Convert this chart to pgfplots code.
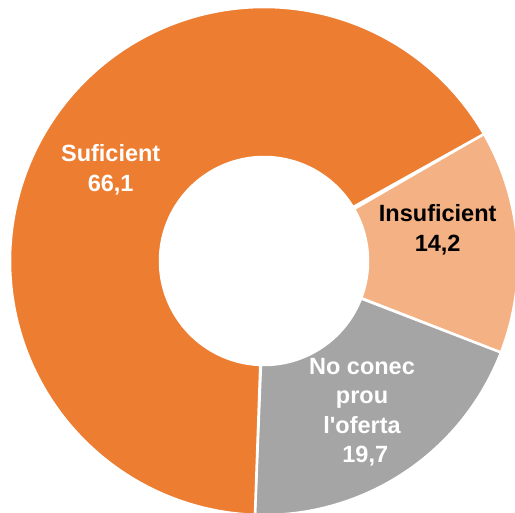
\documentclass[border=0pt]{standalone}
\usepackage{pgfplots}
\pgfplotsset{compat=1.18}
\usepackage{fontspec}
\setmainfont{Liberation Sans}[Ligatures=TeXOff]
\definecolor{cSuf}{HTML}{ED7D31}
\definecolor{cIns}{HTML}{F4B183}
\definecolor{cNo}{HTML}{A5A5A5}
% data (percent)
\def\vIns{14.2}
\def\vNo{19.7}
\def\vSuf{66.1}
\pgfmathsetmacro{\aA}{30.0}
\pgfmathsetmacro{\aB}{\aA-\vIns*3.6}
\pgfmathsetmacro{\aC}{\aB-\vNo*3.6}
\pgfmathsetmacro{\aD}{\aC-\vSuf*3.6}
\newcommand{\ring}[3]{%
  \addplot[fill=#1, draw=white, line width=2.5pt, line join=round, domain=0:2, samples=401, variable=\t]
  ({264+ifthenelse(\t<=1,254,104)*cos(ifthenelse(\t<=1,#2+(#3-#2)*\t,#3-(#3-#2)*(\t-1)))},
   {252+ifthenelse(\t<=1,254,104)*sin(ifthenelse(\t<=1,#2+(#3-#2)*\t,#3-(#3-#2)*(\t-1)))}) -- cycle;}
\begin{document}
\begin{tikzpicture}
\begin{axis}[name=ax, width=515pt, height=513pt, scale only axis, xmin=0, xmax=515, ymin=0, ymax=513, hide axis, clip=true]
\ring{cIns}{\aA}{\aB}
\ring{cNo}{\aB}{\aC}
\ring{cSuf}{\aC}{\aD}
\node[align=center, text=white, font=\fontsize{23.5}{29.5}\selectfont\bfseries] at (axis cs:110.7,343) {Suficient\\66,1};
\node[align=center, text=black, font=\fontsize{23.5}{29.5}\selectfont\bfseries] at (axis cs:437.7,283) {Insuficient\\14,2};
\node[align=center, text=white, font=\fontsize{23.5}{29.5}\selectfont\bfseries] at (axis cs:362,101) {No conec\\prou\\l'oferta\\\ 19,7};
\end{axis}
\pgfresetboundingbox
\useasboundingbox (ax.south west) rectangle (ax.north east);
\end{tikzpicture}
\end{document}
